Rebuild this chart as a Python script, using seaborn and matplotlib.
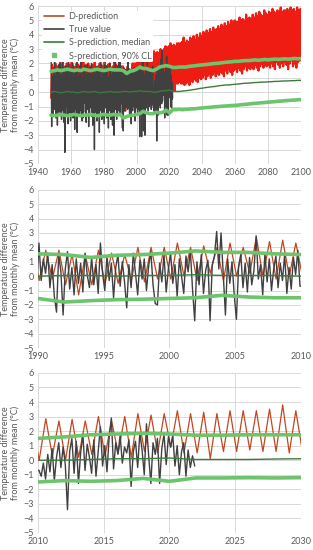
import numpy as np
import matplotlib
matplotlib.use("Agg")
import matplotlib.pyplot as plt
from matplotlib.lines import Line2D
import seaborn as sns

# ------------------------------------------------------------------
# values (°C, difference from monthly mean)
# ------------------------------------------------------------------

# true value, quarterly 1948-1989
true_early = [
    2.2, -2.4, 1.1, -0.9,   0.8, -1.5, 1.4, -0.6,   2.1, -1.2, 0.6, -1.8,
    1.2, -0.4, 1.5, -2.3,   0.9, -1.1, 1.9, -1.4,   1.3, -0.7, 2.0, -1.6,
    0.5, -1.9, 1.2, -0.8,   2.4, -1.3, 0.9, -2.1,   1.0, -4.2, 1.6, -0.5,
    1.8, -1.0, 0.7, -1.7,   1.4, -2.2, 2.1, -0.9,   0.6, -1.4, 1.3, -2.0,
    1.7, -0.6, 0.8, -1.5,   2.0, -1.8, 1.1, -1.1,   0.9, -2.6, 1.5, -0.7,
    1.3, -1.2, 2.2, -2.8,   1.6, -0.9, 0.6, -1.6,   1.1, -1.5, 1.8, -1.0,
    2.7, -1.3, 1.0, -2.0,   0.8, -1.8, 1.4, -0.8,   1.5, -0.7, 1.9, -1.4,
    1.2, -2.1, 0.9, -1.2,   1.9, -1.0, 1.3, -2.4,   0.7, -1.6, 1.7, -0.9,
    1.4, -1.1, 2.0, -1.7,   1.0, -2.3, 1.2, -1.3,   1.6, -4.0, 0.8, -1.0,
    1.3, -1.4, 1.8, -2.0,   0.9, -0.8, 1.5, -1.6,   1.7, -2.8, 1.1, -1.2,
    2.1, -1.3, 0.7, -1.9,   1.0, -1.7, 1.6, -0.8,   1.4, -2.2, 1.9, -1.1,
    0.8, -1.0, 1.3, -1.8,   1.8, -1.5, 0.9, -2.5,   1.1, -0.9, 2.0, -1.3,
    1.5, -1.9, 1.2, -1.0,   0.9, -2.3, 1.7, -1.6,   1.6, -3.0, 1.0, -1.2,
    2.4, -1.1, 1.4, -1.9,   1.2, -1.6, 1.8, -0.7,   2.3, -1.3, 0.9, -1.5,
]

# true value, every two months 1990-2021
true_recent = [
    2.3, -0.3, 1.2, 0.2, 1.6, -0.8,      # 1990
    0.8, -1.4, -2.5, 1.5, 0.3, -2.7,     # 1991
    0.5, 1.7, -0.9, 0.6, -1.3, 1.2,      # 1992
    -0.5, 0.9, -1.1, 1.6, 0.1, -0.8,     # 1993
    1.3, -0.6, 0.8, -1.2, 2.3, 0.2,      # 1994
    -1.0, 1.4, -0.3, 0.9, -1.5, 0.6,     # 1995
    1.5, -0.7, 1.0, -0.4, -2.2, 0.8,     # 1996
    -0.8, 1.6, 0.2, -1.3, 1.1, -0.2,     # 1997
    1.2, -1.0, 0.7, 1.7, -0.6, -1.9,     # 1998
    -2.0, 0.9, -0.4, 1.5, -1.1, 0.5,     # 1999
    1.6, -0.5, 0.8, -1.4, 1.2, 0.0,      # 2000
    -1.2, 1.4, 0.3, 1.8, -0.9, -3.1,     # 2001
    1.0, -0.6, 1.5, -1.2, 0.4, 1.1,      # 2002
    -3.1, 0.8, 1.4, 3.1, 0.5, 3.0,       # 2003
    0.2, -2.7, 1.2, -0.5, 1.0, -1.3,     # 2004
    -3.0, 0.7, 1.5, -0.8, 0.9, -1.1,     # 2005
    1.3, -0.6, 0.4, 2.8, -0.2, 0.8,      # 2006
    -1.3, 1.6, -0.4, 1.2, -1.0, 0.5,     # 2007
    1.4, -0.8, 0.9, -0.3, 1.5, -1.2,     # 2008
    0.6, -0.9, 1.3, 0.1, 1.8, -0.7,      # 2009
    -0.7, -1.1, -0.2, -1.3, 0.4, -0.8,   # 2010
    0.8, -1.4, 0.2, 1.2, -0.5, 0.9,      # 2011
    -0.3, -3.4, 0.6, 1.5, -0.9, 1.3,     # 2012
    -1.6, 0.5, 1.8, -0.7, 1.1, 0.2,      # 2013
    -0.9, 1.4, -1.1, 0.6, 2.3, -0.4,     # 2014
    1.0, -0.8, 1.6, 2.9, -0.6, 1.2,      # 2015
    0.4, 1.7, -0.2, 0.9, 0.5, 1.4,       # 2016
    -1.8, 0.6, 1.3, -0.5, 1.9, 0.7,      # 2017
    -1.0, 2.5, 0.3, -1.6, 1.2, 0.4,      # 2018
    1.5, -1.6, 0.8, 1.8, -0.3, 1.6,      # 2019
    0.9, 1.7, -0.4, 1.0, -1.0, 0.6,      # 2020
    1.2, -1.1, 0.7, -0.5, 0.3, -0.4,     # 2021
]

# D-prediction: yearly summer peak and winter trough, 1948-2100
d_peak = [
    1.9, 1.7, 2.0, 1.8, 1.6, 2.1, 1.9, 1.7, 1.8, 2.0, 1.6, 1.9, 2.2, 1.8,
    1.7, 2.0, 1.9, 1.6, 1.8, 2.1, 1.7, 1.9, 2.0, 1.8, 1.6, 1.9, 2.1, 1.7,
    1.8, 2.0, 1.9, 1.7, 2.2, 1.8, 1.9, 2.0, 1.7, 1.8, 2.1, 1.9, 1.8, 2.0,
    1.8, 1.8, 1.5, 1.5, 1.8, 1.6, 1.5, 2.0, 2.0, 2.0,
    2.3, 2.0, 2.1, 2.0, 2.3, 2.0, 2.7, 2.4, 2.5, 2.3,
    2.85, 2.7, 2.8, 2.7, 3.0, 2.7, 3.0, 3.2, 3.1, 3.2,
    3.4, 3.2, 3.3, 3.2, 3.4, 3.4, 3.4, 3.5, 3.8, 3.4,
    3.6, 3.5, 3.8, 3.7, 3.9, 3.6, 4.0, 3.8, 4.1, 3.9,
    4.2, 4.0, 4.3, 4.1, 4.4, 4.2, 4.5, 4.3, 4.4, 4.6,
    4.4, 4.7, 4.5, 4.8, 4.6, 4.9, 4.7, 5.0, 4.8, 5.0,
    4.9, 4.9, 5.2, 5.0, 5.1, 5.0, 5.4, 5.1, 5.2, 5.1,
    5.4, 5.2, 5.5, 5.3, 5.6, 5.4, 5.3, 5.7, 5.5, 5.4,
    5.6, 5.5, 5.8, 5.6, 5.5, 5.7, 5.6, 5.9, 5.6, 5.7,
    5.7, 5.8, 5.6, 5.9, 5.7, 5.8, 5.6, 5.9, 5.7, 5.8,
    6.0,
]
d_trough = [
    -0.4, -0.6, -0.3, -0.7, -0.5, -0.4, -0.8, -0.5, -0.3, -0.6, -0.4, -0.7,
    -0.5, -0.3, -0.6, -0.5, -0.4, -0.8, -0.6, -0.3, -0.5, -0.7, -0.4, -0.5,
    -0.6, -0.3, -0.5, -0.7, -0.4, -0.6, -0.5, -0.3, -0.6, -0.4, -0.7, -0.5,
    -0.4, -0.6, -0.3, -0.5, -0.4, -0.6,
    -0.3, -0.2, -0.6, -1.3, -0.6, -0.5, -0.5, -0.3, -0.4, -0.2,
    -0.2, 0.0, -0.3, 0.2, -0.3, 0.0, 0.2, 0.0, -0.2, 0.0,
    0.0, 0.3, 0.0, 0.2, 0.4, 0.3, 0.5, 0.2, 0.6, 0.5,
    0.9, 0.5, 0.5, 0.1, 0.6, 0.6, 0.7, 0.6, 0.6, 0.5,
    0.6, 0.7, 0.5, 0.8, 0.7, 0.9, 0.8, 0.7, 1.0, 0.9,
    1.0, 1.2, 0.9, 1.1, 1.3, 1.0, 1.2, 1.4, 1.1, 1.3,
    1.2, 1.4, 1.3, 1.1, 1.5, 1.3, 1.6, 1.4, 1.2, 1.5,
    1.6, 1.4, 1.7, 1.5, 1.3, 1.6, 1.8, 1.5, 1.7, 1.6,
    1.8, 1.6, 1.9, 1.7, 1.5, 1.8, 2.0, 1.7, 1.9, 1.8,
    1.9, 1.7, 2.0, 1.8, 1.6, 2.1, 1.9, 1.7, 2.0, 1.8,
    2.1, 1.9, 1.6, 2.0, 2.2, 1.8, 2.0, 1.7, 2.1, 2.2,
    2.3,
]

# S-prediction, every second year 1948-2100
s_median = [
    0.0, 0.05, 0.0, -0.05, 0.0, 0.05, 0.0, 0.0, -0.05, 0.0, 0.05, 0.0, 0.0,
    0.05, 0.0, -0.05, 0.0, 0.0, 0.05, 0.0, 0.0,
    0.0, 0.05, 0.05, 0.0, 0.05, 0.05, 0.1, 0.05, 0.05, 0.05, 0.0, 0.0, 0.05,
    0.1, 0.1, 0.15,
    0.05, 0.05, 0.05, 0.08, 0.1, 0.13, 0.17, 0.2, 0.25, 0.28,
    0.32, 0.35, 0.38, 0.4, 0.45, 0.47, 0.5, 0.5, 0.53, 0.55,
    0.57, 0.6, 0.62, 0.63, 0.65, 0.67, 0.68, 0.7, 0.7, 0.72,
    0.73, 0.75, 0.75, 0.77, 0.78, 0.78, 0.8, 0.8, 0.82, 0.82,
]
s_upper = [
    1.45, 1.5, 1.55, 1.5, 1.55, 1.6, 1.55, 1.5, 1.55, 1.5, 1.6, 1.55, 1.5,
    1.55, 1.6, 1.55, 1.5, 1.55, 1.6, 1.55, 1.55,
    1.55, 1.5, 1.3, 1.45, 1.5, 1.6, 1.75, 1.65, 1.65, 1.55, 1.5, 1.6, 1.75,
    1.8, 1.85, 1.8,
    1.72, 1.72, 1.75, 1.75, 1.75, 1.8, 1.82, 1.85, 1.88, 1.9,
    1.92, 1.95, 1.98, 2.0, 2.02, 2.05, 2.08, 2.1, 2.12, 2.15,
    2.15, 2.18, 2.2, 2.2, 2.22, 2.25, 2.22, 2.25, 2.28, 2.25,
    2.28, 2.3, 2.28, 2.3, 2.32, 2.3, 2.32, 2.35, 2.32, 2.35,
]
s_lower = [
    -1.6, -1.65, -1.6, -1.55, -1.6, -1.65, -1.6, -1.55, -1.6, -1.65, -1.6,
    -1.6, -1.55, -1.6, -1.65, -1.6, -1.55, -1.6, -1.6, -1.55, -1.6,
    -1.55, -1.8, -1.7, -1.63, -1.6, -1.55, -1.5, -1.33, -1.45, -1.5, -1.5,
    -1.4, -1.45, -1.4, -1.25, -1.45,
    -1.22, -1.22, -1.2, -1.22, -1.2, -1.18, -1.16, -1.15, -1.12, -1.1,
    -1.08, -1.06, -1.04, -1.02, -1.0, -0.98, -0.97, -0.95, -0.93, -0.92,
    -0.9, -0.87, -0.85, -0.83, -0.8, -0.78, -0.76, -0.74, -0.72, -0.7,
    -0.68, -0.66, -0.63, -0.62, -0.6, -0.58, -0.56, -0.55, -0.53, -0.52,
]

labels = ["D-prediction", "True value", "S-prediction, median",
          "S-prediction, 90% CL"]
cores = {"true": "#404040", "med": "#3b7b3b", "cl": "#6cc46c"}
cinza = "#595959"

# ------------------------------------------------------------------
# time axes for the series
# ------------------------------------------------------------------
t_true = np.concatenate([1948 + (np.arange(len(true_early)) + 0.5) / 4,
                         1990 + (np.arange(len(true_recent)) + 0.5) / 6])
v_true = np.concatenate([true_early, true_recent])

anos_d = 1948 + np.arange(len(d_peak))
t_d = np.column_stack([anos_d + 0.1, anos_d + 0.6]).ravel()
v_d = np.column_stack([d_trough, d_peak]).ravel()

t_s = 1948 + 2 * np.arange(len(s_median))

sns.set_style("white")
plt.rcParams["font.family"] = ["Lato", "DejaVu Sans"]


def painel(ax, xlim, xticks, cor_d, lw_d, legenda=False):
    sns.lineplot(x=t_d, y=v_d, ax=ax, color=cor_d, lw=lw_d,
                 estimator=None, sort=False)
    sns.lineplot(x=t_true, y=v_true, ax=ax, color=cores["true"], lw=1.0,
                 estimator=None, sort=False)
    sns.lineplot(x=t_s, y=s_median, ax=ax, color=cores["med"], lw=1.0,
                 estimator=None, sort=False)
    sns.lineplot(x=t_s, y=s_upper, ax=ax, color=cores["cl"], lw=2.6,
                 estimator=None, sort=False)
    sns.lineplot(x=t_s, y=s_lower, ax=ax, color=cores["cl"], lw=2.6,
                 estimator=None, sort=False)

    ax.set_xlim(*xlim)
    ax.set_ylim(-5, 6)
    ax.set_xticks(xticks)
    ax.set_yticks(range(-5, 7))
    ax.grid(True, color="#d9d9d9", lw=0.7)
    ax.set_axisbelow(True)
    for s in ax.spines.values():
        s.set_visible(False)
    ax.tick_params(length=0, labelsize=6.5, labelcolor=cinza, pad=3)
    ax.set_xlabel("")
    ax.set_ylabel("Temperature difference\nfrom monthly mean (°C)",
                  fontsize=6.5, color=cinza, linespacing=1.1)
    ax.yaxis.set_label_coords(-0.068, 0.5)

    if legenda:
        handles = [
            Line2D([], [], color="#b4502a", lw=1.2),
            Line2D([], [], color=cores["true"], lw=1.2),
            Line2D([], [], color=cores["med"], lw=1.2),
            Line2D([], [], color="none", marker="s", ms=3,
                   markerfacecolor=cores["cl"], markeredgecolor=cores["cl"]),
        ]
        leg = ax.legend(handles, labels, loc="upper left", fontsize=6.5,
                        frameon=True, framealpha=1, facecolor="white",
                        edgecolor="none", handlelength=2.2, handletextpad=0.5,
                        labelspacing=0.45, borderpad=0.2,
                        bbox_to_anchor=(0.0, 1.0))
        for txt in leg.get_texts():
            txt.set_color(cinza)


fig = plt.figure(figsize=(3.13, 5.5), dpi=100)
ax1 = fig.add_axes([0.121, 0.702, 0.841, 0.287])
ax2 = fig.add_axes([0.121, 0.367, 0.841, 0.288])
ax3 = fig.add_axes([0.121, 0.031, 0.841, 0.291])

# the dense long-range view reads as solid red, the zooms as a thin red-brown line
painel(ax1, (1940, 2100), range(1940, 2101, 20), "#ee1c12", 1.6, legenda=True)
painel(ax2, (1990, 2010), range(1990, 2011, 5), "#c4461e", 0.9)
painel(ax3, (2010, 2030), range(2010, 2031, 5), "#c4461e", 0.9)

fig.savefig("out.png", dpi=100)
